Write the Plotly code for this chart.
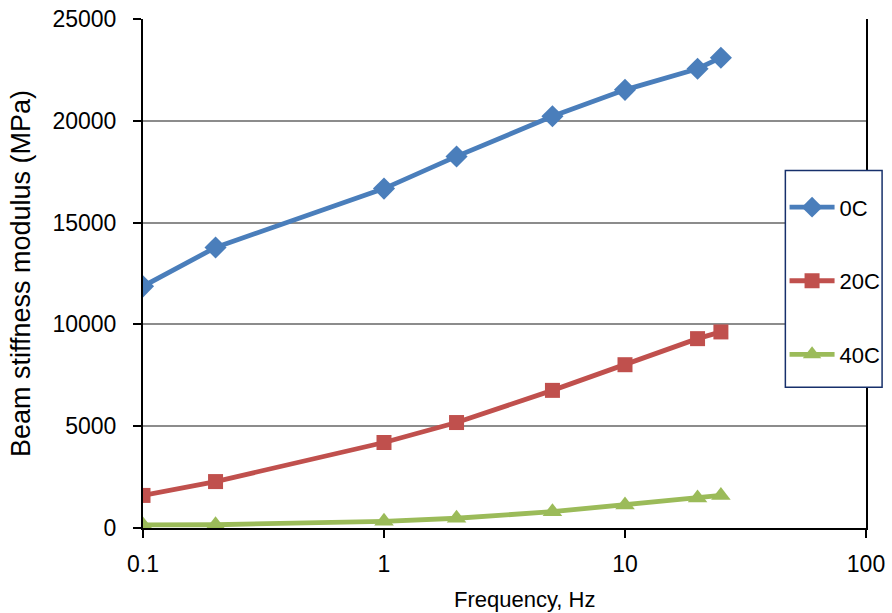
import plotly.graph_objects as go

freq = [0.1, 0.2, 1, 2, 5, 10, 20, 25]
s0C = [11870, 13780, 16670, 18250, 20220, 21520, 22560, 23100]
s20C = [1600, 2280, 4200, 5180, 6760, 8020, 9300, 9630]
s40C = [150, 160, 330, 480, 800, 1130, 1470, 1600]

series = [
    ("0C", s0C, "#4A7EBB", "diamond", 17),
    ("20C", s20C, "#C0504D", "square", 15),
    ("40C", s40C, "#9BBB59", "triangle-up", 17),
]

x_tickvals = [0.1, 1, 10, 100]
x_ticktext = ["0.1", "1", "10", "100"]
y_tickvals = [0, 5000, 10000, 15000, 20000, 25000]
y_ticktext = ["0", "5000", "10000", "15000", "20000", "25000"]

FONT = "Liberation Sans, Arial, sans-serif"

fig = go.Figure()
for i, (name, vals, color, sym, sz) in enumerate(series):
    fig.add_trace(go.Scatter(
        x=freq, y=vals, name=name, mode="lines+markers",
        line=dict(color=color, width=4.8),
        marker=dict(symbol=sym, size=sz, color=color),
        legendgroup=f"g{i}",
    ))

L, R, T, B = 143, 25.5, 19, 84.5
W, H = 892, 613
pw = W - L - R
ph = H - T - B

def px(x):
    return (x - L) / pw

def py(y):
    return (H - B - y) / ph

fig.add_shape(type="rect", xref="paper", yref="paper",
              x0=px(785.8), x1=px(882.6), y0=py(387.7), y1=py(170.7),
              line=dict(color="#17306B", width=1.5), fillcolor="white",
              layer="above")

fig.add_annotation(text="Frequency, Hz", xref="paper", yref="paper",
                   x=px(524.5), y=py(600), xanchor="center", yanchor="middle",
                   showarrow=False, font=dict(family=FONT, size=22, color="black"))

fig.update_layout(
    width=W, height=H,
    margin=dict(l=L, r=R, t=T, b=B, autoexpand=False),
    paper_bgcolor="white", plot_bgcolor="white",
    font=dict(family=FONT, size=23, color="black"),
    showlegend=True,
    legend=dict(
        x=px(785), y=py(186.5), xanchor="left", yanchor="top",
        bgcolor="rgba(0,0,0,0)", borderwidth=0,
        font=dict(family=FONT, size=22, color="black"),
        tracegroupgap=42, itemwidth=45,
    ),
    xaxis=dict(
        type="log", range=[-1, 2],
        tickvals=x_tickvals, ticktext=x_ticktext,
        showgrid=False, showline=True, linecolor="black", linewidth=2,
        ticks="outside", ticklen=8, tickwidth=2, tickcolor="black",
        ticklabelstandoff=6,
        zeroline=False,
    ),
    yaxis=dict(
        range=[0, 25000], tickvals=y_tickvals, ticktext=y_ticktext,
        showgrid=True, gridcolor="#8C8C8C", gridwidth=1.5,
        showline=True, linecolor="black", linewidth=2, mirror=True,
        ticks="outside", ticklen=8, tickwidth=2, tickcolor="black",
        ticklabelstandoff=12,
        title=dict(text="Beam stiffness modulus (MPa)", font=dict(size=27), standoff=14),
        zeroline=False,
    ),
)

fig.write_html("out.html")
